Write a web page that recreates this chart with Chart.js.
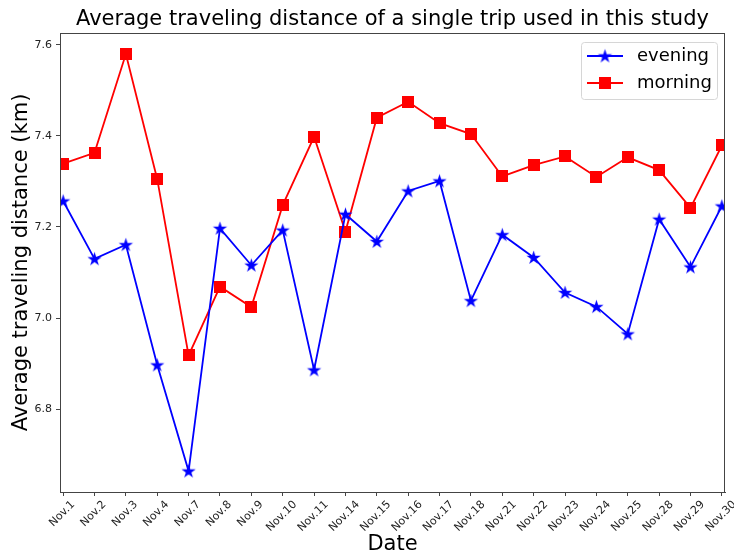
<!DOCTYPE html>
<html>
<head>
<meta charset="utf-8">
<script src="https://cdn.jsdelivr.net/npm/chart.js@4.4.1/dist/chart.umd.min.js"></script>
<style>
  html, body { margin: 0; padding: 0; background: #fff; }
  #wrap { width: 734px; height: 555px; position: relative; }
</style>
</head>
<body>
<div id="wrap"><canvas id="chart" width="734" height="555"></canvas></div>
<script>
// Survey days
const dates = ['Nov.1','Nov.2','Nov.3','Nov.4','Nov.7','Nov.8','Nov.9','Nov.10','Nov.11','Nov.14','Nov.15',
               'Nov.16','Nov.17','Nov.18','Nov.21','Nov.22','Nov.23','Nov.24','Nov.25','Nov.28','Nov.29','Nov.30'];

// Average trip distance (km)
const evening = [7.257, 7.130, 7.161, 6.897, 6.664, 7.197, 7.116, 7.193, 6.886, 7.228, 7.168,
                 7.279, 7.301, 7.038, 7.183, 7.133, 7.056, 7.025, 6.965, 7.217, 7.112, 7.246];
const morning = [7.339, 7.363, 7.580, 7.305, 6.918, 7.069, 7.024, 7.248, 7.398, 7.190, 7.440,
                 7.475, 7.428, 7.404, 7.311, 7.336, 7.355, 7.310, 7.353, 7.325, 7.242, 7.379];

const yTicks = [6.8, 7.0, 7.2, 7.4, 7.6];

const FONT = 'DejaVu Sans';

// filled five-pointed star marker
function starMarker(color, r) {
  const c = document.createElement('canvas');
  const s = Math.ceil(r * 2 + 2);
  c.width = s; c.height = s;
  const g = c.getContext('2d');
  const cx = s / 2, cy = s / 2 + 0.5, ri = r * 0.382;
  g.beginPath();
  for (let i = 0; i < 10; i++) {
    const rad = i % 2 === 0 ? r : ri;
    const a = -Math.PI / 2 + i * Math.PI / 5;
    const px = cx + rad * Math.cos(a), py = cy + rad * Math.sin(a);
    if (i === 0) g.moveTo(px, py); else g.lineTo(px, py);
  }
  g.closePath();
  g.fillStyle = color;
  g.fill();
  return c;
}
function squareMarker(color, side) {
  const c = document.createElement('canvas');
  c.width = side; c.height = side;
  const g = c.getContext('2d');
  g.fillStyle = color;
  g.fillRect(0, 0, side, side);
  return c;
}
const starImg = starMarker('#0000ff', 7.5);
const squareImg = squareMarker('#ff0000', 12);

const toXY = arr => arr.map((v, i) => ({ x: i, y: v }));

// Title, axis titles, rotated date labels, frame and legend
const decor = {
  id: 'decor',
  afterDraw(chart) {
    const ctx = chart.ctx;
    const a = chart.chartArea;
    const xs = chart.scales.x;
    ctx.save();
    // frame
    ctx.strokeStyle = '#444';
    ctx.lineWidth = 1;
    ctx.strokeRect(a.left + 0.5, a.top + 0.5, a.right - a.left - 1, a.bottom - a.top);

    // title
    ctx.fillStyle = '#000';
    ctx.font = '21px "' + FONT + '"';
    ctx.textAlign = 'center';
    ctx.textBaseline = 'middle';
    ctx.fillText('Average traveling distance of a single trip used in this study', (a.left + a.right) / 2, 20);

    // axis titles
    ctx.fillText('Date', (a.left + a.right) / 2, 545);
    ctx.save();
    ctx.translate(22, (a.top + a.bottom) / 2);
    ctx.rotate(-Math.PI / 2);
    ctx.fillText('Average traveling distance (km)', 0, 0);
    ctx.restore();

    // rotated date labels, centred under each tick
    ctx.font = '11px "' + FONT + '"';
    ctx.fillStyle = '#222';
    dates.forEach((d, i) => {
      const px = xs.getPixelForValue(i);
      const w = ctx.measureText(d).width;
      const h = 11;
      const cy = a.bottom + 7 + (w * Math.SQRT1_2 + h * Math.SQRT1_2) / 2;
      ctx.save();
      ctx.translate(px - 1, cy);
      ctx.rotate(-Math.PI / 4);
      ctx.textAlign = 'center';
      ctx.textBaseline = 'middle';
      ctx.fillText(d, 0, 0);
      ctx.restore();
    });

    // legend
    const lx = 581, ly = 42, lw = 136, lh = 57;
    ctx.fillStyle = 'rgba(255,255,255,0.8)';
    ctx.strokeStyle = '#d6d6d6';
    ctx.lineWidth = 1;
    ctx.beginPath();
    ctx.roundRect(lx + 0.5, ly + 0.5, lw, lh, 3);
    ctx.fill();
    ctx.stroke();
    const items = [
      { label: 'evening', color: '#0000ff', img: starImg, y: 56 },
      { label: 'morning', color: '#ff0000', img: squareImg, y: 83 }
    ];
    ctx.font = '18px "' + FONT + '"';
    ctx.textAlign = 'left';
    ctx.textBaseline = 'middle';
    items.forEach(it => {
      ctx.strokeStyle = it.color;
      ctx.lineWidth = 1.8;
      ctx.beginPath();
      ctx.moveTo(587, it.y);
      ctx.lineTo(623, it.y);
      ctx.stroke();
      ctx.drawImage(it.img, 605 - it.img.width / 2, it.y - it.img.height / 2);
      ctx.fillStyle = '#000';
      ctx.fillText(it.label, 637, it.y);
    });
    ctx.restore();
  }
};

new Chart(document.getElementById('chart'), {
  type: 'line',
  data: {
    datasets: [
      {
        label: 'evening',
        data: toXY(evening),
        borderColor: '#0000ff',
        backgroundColor: '#0000ff',
        borderWidth: 1.8,
        pointStyle: starImg,
        tension: 0
      },
      {
        label: 'morning',
        data: toXY(morning),
        borderColor: '#ff0000',
        backgroundColor: '#ff0000',
        borderWidth: 1.8,
        pointStyle: squareImg,
        tension: 0
      }
    ]
  },
  options: {
    responsive: false,
    animation: false,
    layout: { padding: { top: 33, right: 9, left: 0, bottom: 0 } },
    plugins: {
      legend: { display: false },
      title: { display: false },
      tooltip: { enabled: false }
    },
    scales: {
      x: {
        type: 'linear',
        min: -0.1,
        max: 21.1,
        afterBuildTicks: s => { s.ticks = dates.map((_, i) => ({ value: i })); },
        afterFit: s => { s.height = 63; },
        grid: { display: true, drawOnChartArea: false, tickLength: 4, color: '#444' },
        border: { display: true, color: '#444' },
        ticks: { display: true, callback: () => '', padding: 0 }
      },
      y: {
        type: 'linear',
        min: 6.618,
        max: 7.626,
        afterBuildTicks: s => { s.ticks = yTicks.map(v => ({ value: v })); },
        afterFit: s => { s.width = 60; },
        grid: { display: true, drawOnChartArea: false, tickLength: 4, color: '#444' },
        border: { display: true, color: '#444' },
        ticks: {
          font: { family: FONT, size: 11 },
          color: '#222',
          padding: 4,
          callback: v => v.toFixed(1)
        }
      }
    }
  },
  plugins: [decor]
});
</script>
</body>
</html>
